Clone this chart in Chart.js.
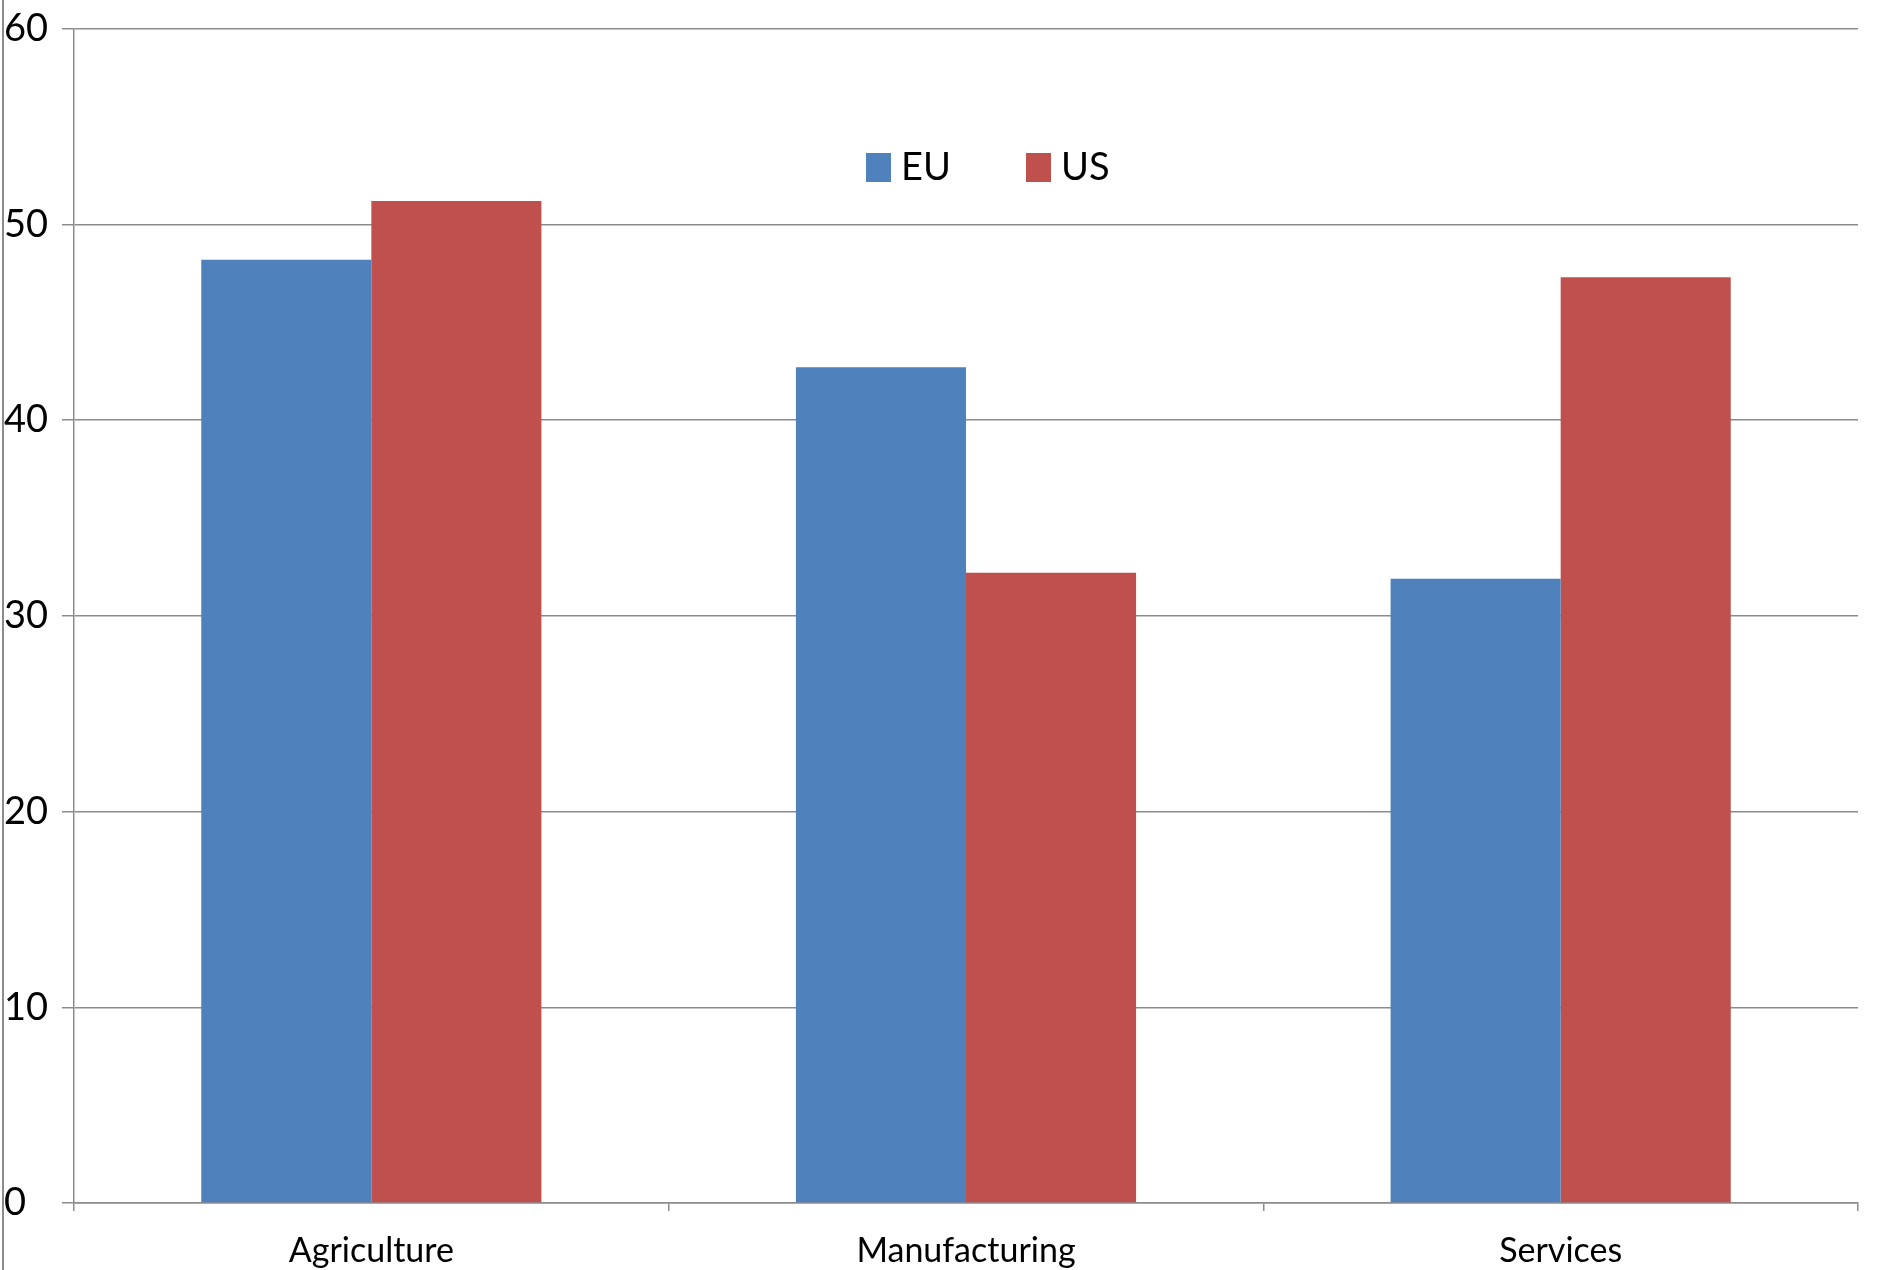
<!DOCTYPE html>
<html>
<head>
<meta charset="utf-8">
<script src="https://cdn.jsdelivr.net/npm/chart.js@4/dist/chart.umd.min.js"></script>
<style>
  html, body { margin: 0; padding: 0; background: #fff; }
  #wrap { position: relative; width: 1878px; height: 1270px; }
  #edge { position: absolute; left: 2px; top: 0; width: 2px; height: 1270px; background: #8c8c8c; }
</style>
</head>
<body>
<div id="wrap">
  <div id="edge"></div>
  <canvas id="chart" width="1878" height="1270"></canvas>
</div>
<script>
// ===== DATA =====
const categories = ["Agriculture", "Manufacturing", "Services"];
const euValues = [48.2, 42.7, 31.9];
const usValues = [51.2, 32.2, 47.3];
const yTicks = [0, 10, 20, 30, 40, 50, 60];

const FONT = "Lato, sans-serif";
const GRID = "#8c8c8c";

// legend sits inside the plot area, like the spreadsheet original
const insideLegend = {
  id: "insideLegend",
  afterDraw(chart) {
    const c = chart.ctx;
    let x = 866;
    const y = 153;
    c.save();
    c.font = "38px " + FONT;
    c.textBaseline = "middle";
    chart.data.datasets.forEach(ds => {
      c.fillStyle = ds.backgroundColor;
      c.fillRect(x, y, 25, 29);
      c.fillStyle = "#000";
      c.fillText(ds.label, x + 35, y + 15);
      x += 160;
    });
    c.restore();
  }
};

// ===== CHART =====
const ctx = document.getElementById("chart").getContext("2d");

new Chart(ctx, {
  type: "bar",
  data: {
    labels: categories,
    datasets: [
      { label: "EU", data: euValues, backgroundColor: "#4f81bd" },
      { label: "US", data: usValues, backgroundColor: "#c0504d" }
    ]
  },
  options: {
    responsive: false,
    animation: false,
    layout: { padding: { left: 4, right: 20, top: 22, bottom: 0 } },
    datasets: {
      bar: { categoryPercentage: 0.572, barPercentage: 1.0 }
    },
    plugins: {
      tooltip: { enabled: false },
      legend: { display: false }
    },
    scales: {
      x: {
        grid: { drawOnChartArea: false, offset: true, tickLength: 8, color: GRID, lineWidth: 1.5 },
        border: { color: GRID, width: 1.5 },
        ticks: { font: { family: FONT, size: 34 }, color: "#000", padding: 20 },
        afterFit: s => { s.height = 67; }
      },
      y: {
        min: 0,
        max: 60,
        afterBuildTicks: s => { s.ticks = yTicks.map(v => ({ value: v })); },
        grid: { color: GRID, lineWidth: 1.5, tickLength: 12 },
        border: { color: GRID, width: 1.5 },
        ticks: { font: { family: FONT, size: 38 }, color: "#000", crossAlign: "far", padding: 6 },
        afterFit: s => { s.width = 70; }
      }
    }
  },
  plugins: [insideLegend]
});
</script>
</body>
</html>
